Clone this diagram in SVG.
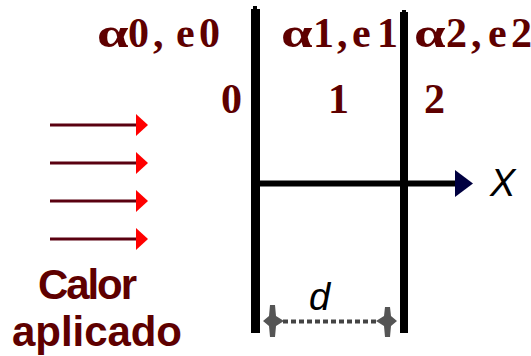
<svg xmlns="http://www.w3.org/2000/svg" width="531" height="356" viewBox="0 0 531 356">
<style>
.lab{font-family:"Liberation Serif","Times New Roman",serif;font-weight:bold;font-size:42px;fill:#5e0000}
.cal{font-family:"Liberation Sans",Arial,sans-serif;font-weight:bold;font-size:42px;fill:#5e0000}
.ital{font-family:"Liberation Sans",Arial,sans-serif;font-style:italic;font-size:38px;fill:#000}
.wall{fill:#000}
.heat{stroke:#5a0010;stroke-width:3;fill:none}
.heathead{fill:#ff0000}
.dim{fill:#555}
</style>
<rect width="531" height="356" fill="#fff"/>
<g id="labels">
<text class="lab" transform="translate(97,47) scale(1.35,1)">α</text>
<text class="lab" y="47"><tspan x="128">0</tspan><tspan x="153">,</tspan><tspan x="176">e</tspan><tspan x="199">0</tspan></text>
<text class="lab" transform="translate(281,47) scale(1.35,1)">α</text>
<text class="lab" y="47"><tspan x="313">1</tspan><tspan x="337">,</tspan><tspan x="352">e</tspan><tspan x="377">1</tspan></text>
<text class="lab" transform="translate(414,47) scale(1.35,1)">α</text>
<text class="lab" y="47"><tspan x="446">2</tspan><tspan x="471">,</tspan><tspan x="488">e</tspan><tspan x="511">2</tspan></text>
<text class="lab" x="221" y="113">0</text>
<text class="lab" x="328" y="113">1</text>
<text class="lab" x="424" y="113">2</text>
</g>
<g id="walls">
<rect class="wall" x="251" y="9" width="9" height="324"/>
<rect class="wall" x="253" y="6" width="4" height="4"/>
<rect class="wall" x="400" y="12" width="8" height="321"/>
<rect class="wall" x="402" y="10" width="4" height="3"/>
</g>
<g id="heat">
<line class="heat" x1="50" y1="125" x2="138" y2="125"/>
<polygon class="heathead" points="136,114 148,125 136,136"/>
<line class="heat" x1="50" y1="163" x2="138" y2="163"/>
<polygon class="heathead" points="136,152 148,163 136,174"/>
<line class="heat" x1="50" y1="201" x2="138" y2="201"/>
<polygon class="heathead" points="136,190 148,201 136,212"/>
<line class="heat" x1="50" y1="239" x2="138" y2="239"/>
<polygon class="heathead" points="136,228 148,239 136,250"/>
<text class="cal" x="38" y="299" textLength="99">Calor</text>
<text class="cal" x="12" y="346" textLength="170">aplicado</text>
</g>
<g id="axis">
<line x1="256" y1="183.5" x2="457" y2="183.5" stroke="#000" stroke-width="6"/>
<polygon points="455,170 473,183.5 455,197" fill="#000040"/>
<text class="ital" x="490" y="196" font-size="39">X</text>
</g>
<g id="dimension">
<line x1="283" y1="321.5" x2="378" y2="321.5" stroke="#444" stroke-width="4" stroke-dasharray="5 3"/>
<polygon class="dim" points="263,321 269,316 270,305 275,305 276,316 284,321 276,326 275,337 270,337 269,326"/>
<polygon class="dim" points="397,321 391,316 390,307 385,307 384,316 376,321 384,326 385,337 390,337 391,326"/>
<text class="ital" x="309" y="310" font-size="52">d</text>
</g>
</svg>
